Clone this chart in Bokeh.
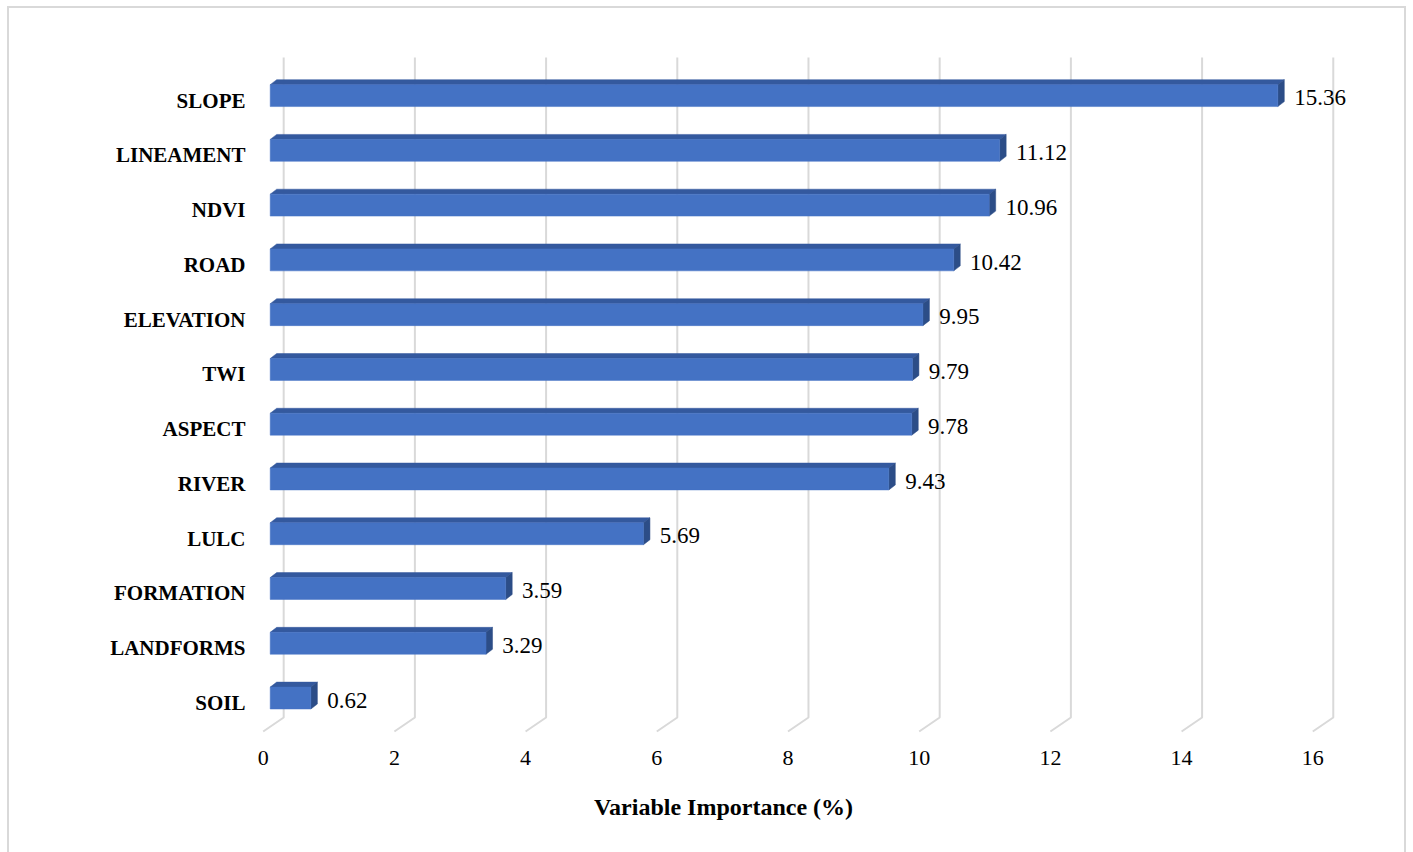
from bokeh.plotting import figure
from bokeh.models import FixedTicker, ColumnDataSource, Range1d, InlineStyleSheet
from bokeh.core.properties import value
from bokeh.embed import file_html
from bokeh.resources import INLINE

# ---- data ----
categories = ["SLOPE", "LINEAMENT", "NDVI", "ROAD", "ELEVATION", "TWI",
              "ASPECT", "RIVER", "LULC", "FORMATION", "LANDFORMS", "SOIL"]
importance = [15.36, 11.12, 10.96, 10.42, 9.95, 9.79, 9.78, 9.43, 5.69, 3.59, 3.29, 0.62]
x_ticks = [0, 2, 4, 6, 8, 10, 12, 14, 16]

# ---- style constants (data units) ----
BAR_X0 = 0.107      # bars sit slightly behind the floor's front edge
BAR_H = 0.40
BAR_DY = 0.09
DEPTH_X = 0.099
DEPTH_Y = 0.091
GRID_BACK = 0.3125
GRID_BEND = -0.265
GRID_FRONT = -0.52
GRID_TOP = 11.785

FRONT = "#4472C4"
TOP = "#34599E"
SIDE = "#2C4D87"
GRID = "#D9D9D9"
SERIF = "Liberation Serif"

n = len(categories)
pos = [n - 1 - i for i in range(n)]

p = figure(width=1413, height=852, output_backend="svg", toolbar_location=None,
           x_range=Range1d(-2.541, 16.575), y_range=Range1d(-0.685, 12.096),
           y_axis_location=None,
           min_border_left=96, min_border_right=63, min_border_top=40, min_border_bottom=112)
p.grid.visible = False
p.outline_line_color = None
p.background_fill_color = "white"
p.border_fill_color = "white"

# gridlines (back wall + floor diagonals)
gx = [[t, t + GRID_BACK, t + GRID_BACK] for t in x_ticks]
gy = [[GRID_FRONT, GRID_BEND, GRID_TOP] for t in x_ticks]
p.multi_line(gx, gy, line_color=GRID, line_width=2)

# bars
front_l, front_r, front_b, front_t = [], [], [], []
top_xs, top_ys, side_xs, side_ys = [], [], [], []
for v, k in zip(importance, pos):
    yc = k + BAR_DY
    b, t = yc - BAR_H / 2, yc + BAR_H / 2
    l, r = BAR_X0, BAR_X0 + v
    front_l.append(l); front_r.append(r); front_b.append(b); front_t.append(t)
    top_xs.append([l, r, r + DEPTH_X, l + DEPTH_X])
    top_ys.append([t, t, t + DEPTH_Y, t + DEPTH_Y])
    side_xs.append([r, r + DEPTH_X, r + DEPTH_X, r])
    side_ys.append([b, b + DEPTH_Y, t + DEPTH_Y, t])

p.patches(top_xs, top_ys, fill_color=TOP, line_color=TOP, line_width=0.5)
p.patches(side_xs, side_ys, fill_color=SIDE, line_color=SIDE, line_width=0.5)
p.quad(left=front_l, right=front_r, bottom=front_b, top=front_t,
       fill_color=FRONT, line_color=FRONT, line_width=0.5)

# value labels
src_v = ColumnDataSource(dict(
    x=[BAR_X0 + v + DEPTH_X + 0.15 for v in importance],
    y=[k + 0.05 for k in pos],
    t=[f"{v:.2f}" for v in importance]))
p.text(x="x", y="y", text="t", source=src_v, text_font=value(SERIF),
       text_font_size="23px", text_color="black", text_align="left",
       text_baseline="middle")

# category labels
src_c = ColumnDataSource(dict(x=[-0.27] * n, y=pos, t=categories))
p.text(x="x", y="y", text="t", source=src_c, text_font=value(SERIF),
       text_font_size="21px", text_font_style="bold", text_color="black",
       text_align="right", text_baseline="middle")

# x axis
ax = p.xaxis[0]
ax.ticker = FixedTicker(ticks=x_ticks)
ax.axis_line_color = None
ax.major_tick_line_color = None
ax.minor_tick_line_color = None
ax.major_tick_out = 0
ax.major_tick_in = 0
ax.major_label_standoff = 10
ax.major_label_text_font = SERIF
ax.major_label_text_font_size = "22px"
ax.major_label_text_color = "black"
ax.axis_label = "Variable Importance (%)"
ax.axis_label_text_font = SERIF
ax.axis_label_text_font_size = "24px"
ax.axis_label_text_font_style = "bold"
ax.axis_label_text_color = "black"
ax.axis_label_standoff = 26

# outer chart-area border (drawn by the page, does not affect layout)
p.stylesheets = [InlineStyleSheet(css=(
    ":host::after { content: ''; position: absolute; left: 7px; top: 6px; "
    "right: 7px; bottom: 0px; border: 2px solid #D9D9D9; border-bottom: none; "
    "pointer-events: none; z-index: 10; }"
))]

open("out.html", "w").write(file_html(p, INLINE))
